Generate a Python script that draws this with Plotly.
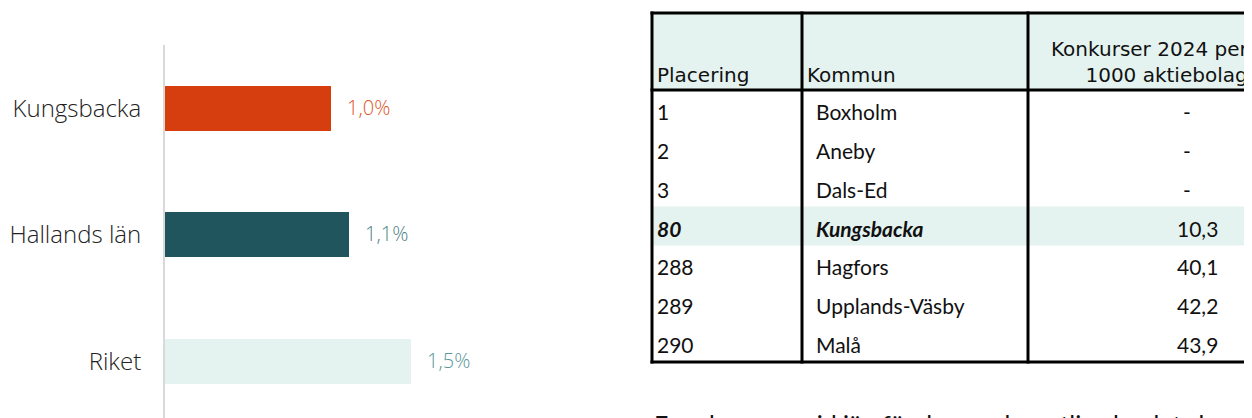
import plotly.graph_objects as go

# page is rendered with an 8px body margin; figure fills the rest of the window
OFF = 8
W, H = 1252 - OFF, 418 - OFF

# ---------------- data ----------------
categories = ["Kungsbacka", "Hallands län", "Riket"]
shares = [1.00, 1.11, 1.48]
share_labels = ["1,0%", "1,1%", "1,5%"]
bar_colors = ["#d63d0f", "#20555e", "#e4f3f0"]
label_colors = ["#de5427", "#4f8186", "#5a9697"]

table_header = ["Placering", "Kommun", "Konkurser 2024 per<br>1000 aktiebolag"]
ranks = [1, 2, 3, 80, 288, 289, 290]
municipalities = ["Boxholm", "Aneby", "Dals-Ed", "Kungsbacka", "Hagfors",
                  "Upplands-Väsby", "Malå"]
bankruptcies = [None, None, None, 10.3, 40.1, 42.2, 43.9]
highlight = "Kungsbacka"
footnote = "Framkommer vid jämförelse med samtliga landets kommuner under 2024"

# ---------------- layout constants (page pixels) ----------------
PLOT_LEFT, PLOT_RIGHT, PLOT_TOP = 165, 497, 45
CAT_STEP = 126.5
T_TOP, T_HEAD, T_BOTTOM = 13, 90, 362
COL_EDGES = [652, 802, 1028, 1262]
MINT = "#e4f3f0"


def px(x):
    return (x - OFF) / W


def py(y):
    return 1 - (y - OFF) / H


fig = go.Figure()

fig.add_trace(go.Bar(
    x=shares, y=list(range(len(categories))), orientation="h",
    marker=dict(color=bar_colors, line=dict(width=0)),
    width=0.355, hoverinfo="skip", showlegend=False,
))

for i, (v, lab, c) in enumerate(zip(shares, share_labels, label_colors)):
    fig.add_annotation(x=v, y=i, xref="x", yref="y", text=lab, showarrow=False,
                       xanchor="left", yanchor="middle", xshift=14, yshift=1,
                       font=dict(family="Open Sans", size=20, color=c, weight=300))

y_bottom = -0.5 + (418 - PLOT_TOP) / CAT_STEP

shapes = []
annotations = []

# table backgrounds
shapes.append(dict(type="rect", xref="paper", yref="paper",
                   x0=px(COL_EDGES[0]), x1=px(COL_EDGES[-1]), y0=py(T_HEAD), y1=py(T_TOP),
                   fillcolor=MINT, line=dict(width=0), layer="below"))
rh = (T_BOTTOM - T_HEAD) / len(ranks)
for i, m in enumerate(municipalities):
    if m == highlight:
        shapes.append(dict(type="rect", xref="paper", yref="paper",
                           x0=px(COL_EDGES[0]), x1=px(COL_EDGES[-1]),
                           y0=py(T_HEAD + (i + 1) * rh), y1=py(T_HEAD + i * rh),
                           fillcolor=MINT, line=dict(width=0), layer="below"))

# table borders
lw = 3
for yy in [T_TOP, T_HEAD, T_BOTTOM]:
    shapes.append(dict(type="line", xref="paper", yref="paper",
                       x0=px(COL_EDGES[0] - 1.5), x1=px(COL_EDGES[-1]), y0=py(yy), y1=py(yy),
                       line=dict(color="black", width=lw)))
for xx in COL_EDGES:
    shapes.append(dict(type="line", xref="paper", yref="paper",
                       x0=px(xx), x1=px(xx), y0=py(T_TOP - 1.5), y1=py(T_BOTTOM + 1.5),
                       line=dict(color="black", width=lw)))

hfont = dict(family="DejaVu Sans", size=20, color="#111")
annotations.append(dict(x=px(COL_EDGES[0] + 3), y=py(T_HEAD - 1), xref="paper", yref="paper",
                        text=table_header[0], showarrow=False, xanchor="left",
                        yanchor="bottom", font=hfont))
annotations.append(dict(x=px(COL_EDGES[1] + 3), y=py(T_HEAD - 1), xref="paper", yref="paper",
                        text=table_header[1], showarrow=False, xanchor="left",
                        yanchor="bottom", font=hfont))
annotations.append(dict(x=px(1250), y=py(T_HEAD - 1), xref="paper", yref="paper",
                        text=table_header[2], showarrow=False, xanchor="right", align="right",
                        yanchor="bottom", font=hfont))

cfont = dict(family="Lato", size=21, color="#111")
for i, (r, m, b) in enumerate(zip(ranks, municipalities, bankruptcies)):
    yc = py(T_HEAD + (i + 0.5) * rh + 2)
    bold = m == highlight
    rt = f"<b><i>{r}</i></b>" if bold else str(r)
    mt = f"<b><i>{m}</i></b>" if bold else m
    annotations.append(dict(x=px(COL_EDGES[0] + 3), y=yc, xref="paper", yref="paper",
                            text=rt, showarrow=False, xanchor="left", yanchor="middle",
                            font=cfont))
    annotations.append(dict(x=px(COL_EDGES[1] + 12), y=yc, xref="paper", yref="paper",
                            text=mt, showarrow=False, xanchor="left", yanchor="middle",
                            font=cfont))
    if b is None:
        annotations.append(dict(x=px(1220), y=yc, xref="paper", yref="paper",
                                text="-", showarrow=False, xanchor="right", yanchor="middle",
                                xshift=-27, font=cfont))
    else:
        annotations.append(dict(x=px(1220), y=yc, xref="paper", yref="paper",
                                text=f"{b:.1f}".replace(".", ","), showarrow=False,
                                xanchor="right", yanchor="middle", font=cfont))

annotations.append(dict(x=px(652), y=py(406.5), xref="paper", yref="paper",
                        text=footnote, showarrow=False, xanchor="left", yanchor="top",
                        font=dict(family="Lato", size=25, color="#111")))

for a in annotations:
    fig.add_annotation(**a)

fig.update_layout(
    width=W, height=H,
    margin=dict(l=0, r=0, t=0, b=0),
    paper_bgcolor="white", plot_bgcolor="white",
    shapes=shapes,
    xaxis=dict(domain=[px(PLOT_LEFT), px(PLOT_RIGHT)], range=[0, 2], visible=False,
               fixedrange=True),
    yaxis=dict(domain=[0, py(PLOT_TOP)], range=[y_bottom, -0.5],
               tickmode="array", tickvals=list(range(len(categories))), ticktext=categories,
               showline=True, linecolor="#d9d9d9", linewidth=2, showgrid=False,
               zeroline=False, ticks="", ticklabelstandoff=17,
               tickfont=dict(family="Open Sans", size=24, color="#222", weight=300),
               fixedrange=True),
    bargap=0,
)

fig.write_html("out.html")
